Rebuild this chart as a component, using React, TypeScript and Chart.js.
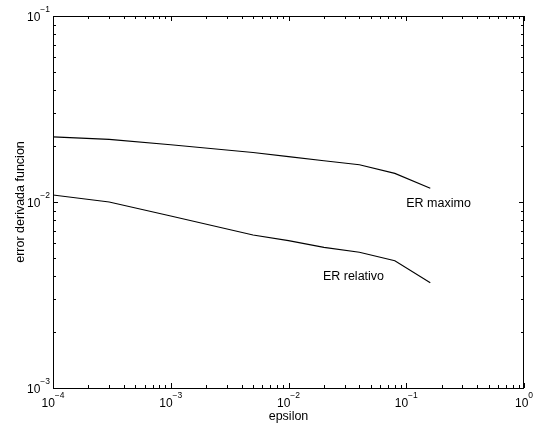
import React, { useEffect, useRef } from 'react';
import { Chart, registerables } from 'chart.js';

Chart.register(...registerables);

// ---- data ----
const epsilon = [1e-4, 3e-4, 1e-3, 5e-3, 1e-2, 2e-2, 4e-2, 8e-2, 0.16];
const erMaximo = [0.0224, 0.0217, 0.0203, 0.01845, 0.01754, 0.01667, 0.01585, 0.01425, 0.01186];
const erRelativo = [0.0109, 0.01, 0.0084, 0.00665, 0.0062, 0.0057, 0.00537, 0.00483, 0.00368];

const xTickValues = [1e-4, 1e-3, 1e-2, 1e-1, 1];
const xTickExponents = ['\u22124', '\u22123', '\u22122', '\u22121', '0'];
const yTickValues = [1e-3, 1e-2, 1e-1];
const yTickExponents = ['\u22123', '\u22122', '\u22121'];

const xTitle = 'epsilon';
const yTitle = 'error derivada funcion';

const annotationTexts = ['ER maximo', 'ER relativo'];
const annotationX = [0.1, 0.0196];
const annotationY = [0.00977, 0.00395];

const FONT = '"Liberation Sans", Arial, Helvetica, sans-serif';

const axesPlugin = {
  id: 'matlabAxes',
  afterDraw(chart: any) {
    const { ctx, chartArea: a, scales } = chart;
    const x = scales.x;
    const y = scales.y;
    ctx.save();
    ctx.strokeStyle = '#000';
    ctx.fillStyle = '#000';
    ctx.lineWidth = 1;
    // frame
    ctx.strokeRect(a.left + 0.5, a.top + 0.5, a.right - a.left - 1, a.bottom - a.top);

    const tick = (isX: boolean, v: number, len: number) => {
      if (isX) {
        const p = Math.round(x.getPixelForValue(v)) + 0.5;
        ctx.beginPath();
        ctx.moveTo(p, a.bottom);
        ctx.lineTo(p, a.bottom - len);
        ctx.moveTo(p, a.top);
        ctx.lineTo(p, a.top + len);
        ctx.stroke();
      } else {
        const p = Math.round(y.getPixelForValue(v)) + 0.5;
        ctx.beginPath();
        ctx.moveTo(a.left, p);
        ctx.lineTo(a.left + len, p);
        ctx.moveTo(a.right, p);
        ctx.lineTo(a.right - len, p);
        ctx.stroke();
      }
    };
    for (let i = 0; i < xTickValues.length; i++) {
      const v = xTickValues[i];
      tick(true, v, 5);
      if (i < xTickValues.length - 1) {
        for (let m = 2; m <= 9; m++) tick(true, v * m, 3);
      }
    }
    for (let i = 0; i < yTickValues.length; i++) {
      const v = yTickValues[i];
      tick(false, v, 5);
      if (i < yTickValues.length - 1) {
        for (let m = 2; m <= 9; m++) tick(false, v * m, 3);
      }
    }

    // tick labels
    const baseFont = '12px ' + FONT;
    const expFont = '8.5px ' + FONT;
    ctx.textBaseline = 'alphabetic';
    ctx.textAlign = 'left';
    for (let i = 0; i < xTickValues.length; i++) {
      const p = x.getPixelForValue(xTickValues[i]);
      ctx.font = baseFont;
      const w1 = ctx.measureText('10').width;
      ctx.font = expFont;
      const w2 = ctx.measureText(xTickExponents[i]).width;
      const start = p - (w1 + w2) / 2;
      ctx.font = baseFont;
      ctx.fillText('10', start, a.bottom + 19);
      ctx.font = expFont;
      ctx.fillText(xTickExponents[i], start + w1, a.bottom + 10);
    }
    for (let i = 0; i < yTickValues.length; i++) {
      const p = y.getPixelForValue(yTickValues[i]);
      ctx.font = expFont;
      const w2 = ctx.measureText(yTickExponents[i]).width;
      ctx.font = baseFont;
      const w1 = ctx.measureText('10').width;
      const end = a.left - 3;
      ctx.fillText('10', end - w2 - w1, p + 4.5);
      ctx.font = expFont;
      ctx.fillText(yTickExponents[i], end - w2, p - 4);
    }

    // axis titles
    ctx.font = '12.5px ' + FONT;
    ctx.textAlign = 'center';
    ctx.fillText(xTitle, (a.left + a.right) / 2, a.bottom + 32);
    ctx.save();
    ctx.translate(23.5, (a.top + a.bottom) / 2);
    ctx.rotate(-Math.PI / 2);
    ctx.fillText(yTitle, 0, 0);
    ctx.restore();

    // annotations
    ctx.textAlign = 'left';
    ctx.textBaseline = 'middle';
    for (let i = 0; i < annotationTexts.length; i++) {
      ctx.fillText(annotationTexts[i], x.getPixelForValue(annotationX[i]), y.getPixelForValue(annotationY[i]));
    }
    ctx.restore();
  },
};

export default function App() {
  const ref = useRef<HTMLCanvasElement>(null);
  useEffect(() => {
    if (!ref.current) return;
    const chart = new Chart(ref.current, {
      type: 'line',
      data: {
        datasets: [
          {
            label: 'ER maximo',
            data: epsilon.map((e, i) => ({ x: e, y: erMaximo[i] })),
            borderColor: '#000',
            borderWidth: 1.1,
            pointRadius: 0,
            tension: 0,
            fill: false,
          },
          {
            label: 'ER relativo',
            data: epsilon.map((e, i) => ({ x: e, y: erRelativo[i] })),
            borderColor: '#000',
            borderWidth: 1.1,
            pointRadius: 0,
            tension: 0,
            fill: false,
          },
        ],
      },
      options: {
        animation: false,
        responsive: false,
        parsing: false as any,
        layout: { padding: { left: 53, top: 16, right: 9, bottom: 40 } },
        plugins: { legend: { display: false }, tooltip: { enabled: false } },
        scales: {
          x: { type: 'logarithmic', min: 1e-4, max: 1, display: false },
          y: { type: 'logarithmic', min: 1e-3, max: 1e-1, display: false },
        },
      },
      plugins: [axesPlugin],
    });
    return () => chart.destroy();
  }, []);
  return (
    <div style={{ position: 'absolute', left: 0, top: 0, width: 533, height: 428, background: '#fff' }}>
      <canvas ref={ref} width={533} height={428} style={{ display: 'block' }} />
    </div>
  );
}
